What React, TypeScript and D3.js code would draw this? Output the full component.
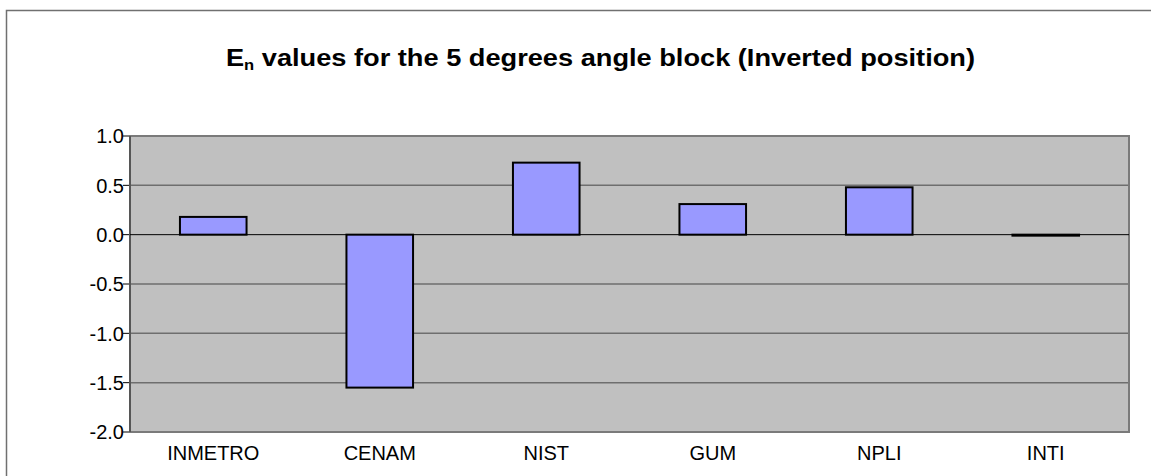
import React from "react";
import * as d3 from "d3";

const categories = ["INMETRO", "CENAM", "NIST", "GUM", "NPLI", "INTI"];
const values = [0.18, -1.55, 0.73, 0.31, 0.48, -0.01];
const yTicks = [-2.0, -1.5, -1.0, -0.5, 0.0, 0.5, 1.0];

export default function App() {
  const W = 1151, H = 476;
  const left = 130, right = 1129, top = 136, bottom = 432;
  const x = d3.scaleBand<string>().domain(categories).range([left, right]).paddingInner(0.6).paddingOuter(0.3);
  const y = d3.scaleLinear().domain([-2, 1]).range([bottom, top]);
  const font = "'Liberation Sans', Arial, sans-serif";
  return (
    <svg width={W} height={H} style={{ position: "absolute", left: 0, top: 0 }}>
      <rect x={0} y={0} width={W} height={H} fill="#fff" />
      <rect x={6.5} y={10.5} width={1160} height={500} fill="#fff" stroke="#707070" strokeWidth={1.5} />
      <text x={600.5} y={66} textAnchor="middle" fontFamily={font} fontWeight="bold" fontSize={23} fill="#000"
        textLength={749} lengthAdjust="spacingAndGlyphs">
        E<tspan fontSize={14} dy={4}>n</tspan>
        <tspan dy={-4}> values for the 5 degrees angle block (Inverted position)</tspan>
      </text>
      <rect x={left} y={top} width={right - left} height={bottom - top} fill="#C0C0C0" />
      {yTicks.map((t) => (
        <g key={t}>
          {t !== 0 && (
            <line x1={left} x2={right} y1={y(t)} y2={y(t)} stroke="#6e6e6e" strokeWidth={1.5} />
          )}
          <line x1={left - 7} x2={left} y1={y(t)} y2={y(t)} stroke="#000" strokeWidth={1} />
          <text x={left - 6} y={y(t)} dy="0.36em" textAnchor="end" fontFamily={font} fontSize={20} fill="#000">
            {t.toFixed(1)}
          </text>
        </g>
      ))}
      <rect x={left} y={top} width={right - left} height={bottom - top} fill="none" stroke="#7a7a7a" strokeWidth={2} />
      <line x1={left} x2={left} y1={top} y2={bottom} stroke="#333" strokeWidth={1} />
      <line x1={left} x2={right} y1={y(0)} y2={y(0)} stroke="#000" strokeWidth={1} />
      {categories.map((c, i) => {
        const v = values[i];
        const y0 = y(Math.max(0, v));
        const h = Math.abs(y(v) - y(0));
        return (
          <rect key={c} x={x(c)} y={y0} width={x.bandwidth()} height={h} fill="#9999FF" stroke="#000" strokeWidth={2} />
        );
      })}
      {categories.map((c) => (
        <text key={c} x={(x(c) as number) + x.bandwidth() / 2} y={460} textAnchor="middle" fontFamily={font} fontSize={20} fill="#000">
          {c}
        </text>
      ))}
    </svg>
  );
}
